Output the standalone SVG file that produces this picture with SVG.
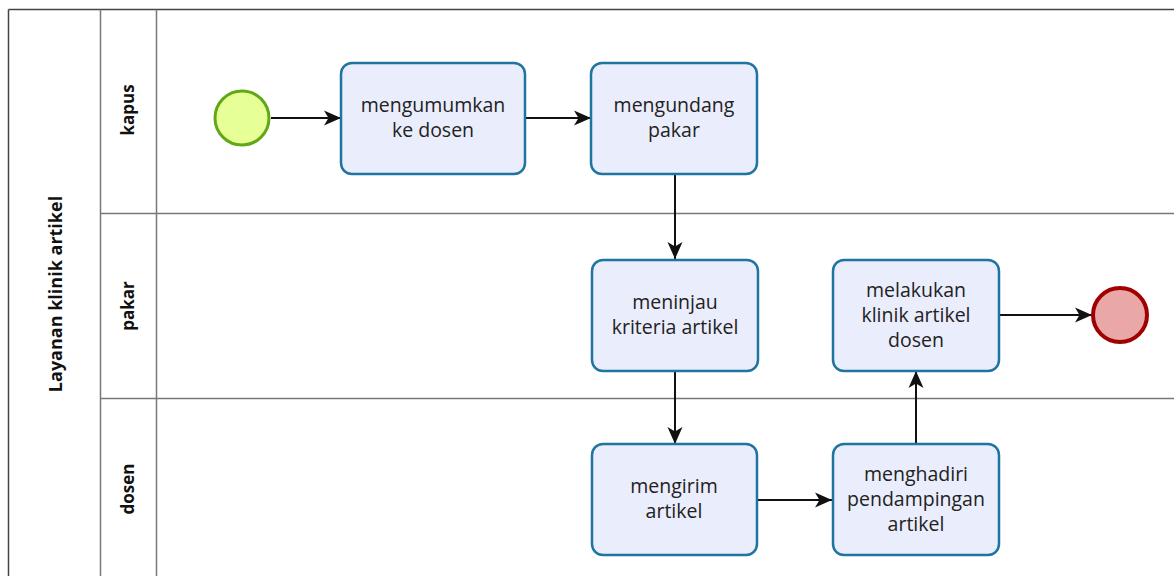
<svg xmlns="http://www.w3.org/2000/svg" width="1174" height="576" viewBox="0 0 1174 576">
<style>
.pool{fill:none;stroke:#444;stroke-width:1.5}
.lane{fill:none;stroke:#777;stroke-width:1.5}
.task{fill:#eaedfc;stroke:#1f74a0;stroke-width:2.5}
.t{font-family:"Open Sans","DejaVu Sans",sans-serif;font-size:19.5px;fill:#222;text-anchor:middle}
.hl{font-family:"Open Sans","DejaVu Sans",sans-serif;font-size:17px;font-weight:bold;fill:#111;text-anchor:middle}
.edge{fill:none;stroke:#111;stroke-width:2}
</style>
<defs>
<marker id="arr" markerUnits="userSpaceOnUse" markerWidth="20" markerHeight="18" refX="17" refY="9" orient="auto">
<path d="M0,1.5 L17,9 L0,16.5 L4.5,9 Z" fill="#111"/>
</marker>
</defs>
<rect width="1174" height="576" fill="#fff"/>
<g id="pool">
<line class="pool" x1="8.5" y1="9.5" x2="1174" y2="9.5"/>
<line class="pool" x1="8.5" y1="9.5" x2="8.5" y2="576"/>
<line class="lane" x1="100.5" y1="9.5" x2="100.5" y2="576"/>
<text class="hl" style="font-size:18px" transform="translate(62,294) rotate(-90)">Layanan klinik artikel</text>
</g>
<g id="lane-kapus">
<line class="lane" x1="156.5" y1="9.5" x2="156.5" y2="576"/>
<text class="hl" transform="translate(134,110) rotate(-90)">kapus</text>
</g>
<g id="lane-pakar">
<line class="lane" x1="100.5" y1="213.5" x2="1174" y2="213.5"/>
<text class="hl" transform="translate(134,306) rotate(-90)">pakar</text>
</g>
<g id="lane-dosen">
<line class="lane" x1="100.5" y1="398.5" x2="1174" y2="398.5"/>
<text class="hl" transform="translate(134,489) rotate(-90)">dosen</text>
</g>
<g id="connectors">
<line class="edge" x1="271" y1="118" x2="341" y2="118" marker-end="url(#arr)"/>
<line class="edge" x1="525" y1="118" x2="591" y2="118" marker-end="url(#arr)"/>
<line class="edge" x1="675" y1="174" x2="675" y2="259" marker-end="url(#arr)"/>
<line class="edge" x1="675" y1="371" x2="675" y2="444" marker-end="url(#arr)"/>
<line class="edge" x1="757" y1="500" x2="832" y2="500" marker-end="url(#arr)"/>
<line class="edge" x1="916" y1="555" x2="916" y2="371" marker-end="url(#arr)"/>
<line class="edge" x1="999" y1="315" x2="1092" y2="315" marker-end="url(#arr)"/>
</g>
<g id="start">
<circle cx="242" cy="118" r="27" fill="#e6ff97" stroke="#62a716" stroke-width="3"/>
</g>
<g id="task-mengumumkan">
<rect class="task" x="341" y="63" width="184" height="111" rx="11"/>
<text class="t" x="433" y="112">mengumumkan</text>
<text class="t" x="433" y="137">ke dosen</text>
</g>
<g id="task-mengundang">
<rect class="task" x="591" y="63" width="166" height="111" rx="11"/>
<text class="t" x="674" y="112">mengundang</text>
<text class="t" x="674" y="137">pakar</text>
</g>
<g id="task-meninjau">
<rect class="task" x="592" y="260" width="166" height="111" rx="11"/>
<text class="t" x="675" y="309">meninjau</text>
<text class="t" x="675" y="334">kriteria artikel</text>
</g>
<g id="task-melakukan">
<rect class="task" x="833" y="260" width="166" height="111" rx="11"/>
<text class="t" x="916" y="297">melakukan</text>
<text class="t" x="916" y="322">klinik artikel</text>
<text class="t" x="916" y="347">dosen</text>
</g>
<g id="end">
<circle cx="1120" cy="315" r="27" fill="#eaa7a8" stroke="#a00000" stroke-width="4"/>
</g>
<g id="task-mengirim">
<rect class="task" x="592" y="444" width="165" height="111" rx="11"/>
<text class="t" x="674" y="493">mengirim</text>
<text class="t" x="674" y="518">artikel</text>
</g>
<g id="task-menghadiri">
<rect class="task" x="833" y="444" width="166" height="111" rx="11"/>
<text class="t" x="916" y="481">menghadiri</text>
<text class="t" x="916" y="506">pendampingan</text>
<text class="t" x="916" y="531">artikel</text>
</g>
</svg>
